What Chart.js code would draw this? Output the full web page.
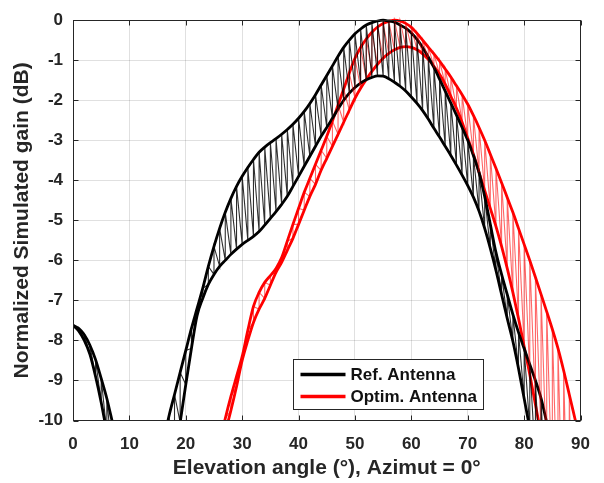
<!DOCTYPE html>
<html><head><meta charset="utf-8">
<script src="https://cdn.jsdelivr.net/npm/chart.js@4.4.0/dist/chart.umd.min.js"></script>
<style>html,body{margin:0;padding:0;background:#fff;}#wrap{width:604px;height:483px;}</style>
</head><body><div id="wrap"><canvas id="c" width="604" height="483"></canvas></div>
<script>
// Elevation angle (deg), one sample per degree
const elevation = [0,1,2,3,4,5,6,7,8,9,10,11,12,13,14,15,16,17,18,19,20,21,22,23,24,25,26,27,28,29,30,31,32,33,34,35,36,37,38,39,40,41,42,43,44,45,46,47,48,49,50,51,52,53,54,55,56,57,58,59,60,61,62,63,64,65,66,67,68,69,70,71,72,73,74,75,76,77,78,79,80,81,82,83,84,85,86,87,88,89,90];
// Ref. antenna: upper and lower envelopes of the gain (dB)
const refUpper = [-7.62,-7.70,-7.86,-8.12,-8.48,-8.95,-9.45,-10.05,null,null,null,null,null,null,null,null,
  -10.55,-9.9,-9.35,-8.8,-8.25,-7.7,-7.2,-6.7,-6.15,-5.65,-5.2,-4.8,-4.45,-4.15,-3.9,-3.68,-3.48,-3.3,-3.17,-3.06,
  -2.96,-2.85,-2.73,-2.6,-2.45,-2.28,-2.08,-1.86,-1.62,-1.38,-1.14,-0.9,-0.68,-0.5,-0.34,-0.22,-0.12,-0.06,-0.02,0,
  -0.02,-0.05,-0.12,-0.2,-0.32,-0.48,-0.68,-0.92,-1.18,-1.47,-1.77,-2.07,-2.37,-2.68,-3.0,-3.38,-3.8,-4.4,-5.1,-5.8,
  -6.35,-6.85,-7.35,-7.8,-8.2,-8.6,-9.0,-9.45,-10.05,null,null,null,null,null,null];
const refLower = [-7.62,-7.76,-8.0,-8.35,-8.9,-9.55,-10.3,-11.0,null,null,null,null,null,null,null,null,
  -12.6,-11.8,-10.95,-10.05,-9.1,-8.2,-7.38,-6.95,-6.6,-6.35,-6.15,-6.0,-5.85,-5.72,-5.6,-5.5,-5.4,-5.28,-5.12,-4.95,
  -4.78,-4.6,-4.4,-4.15,-3.9,-3.65,-3.4,-3.15,-2.9,-2.68,-2.45,-2.22,-2.0,-1.82,-1.68,-1.57,-1.49,-1.43,-1.39,-1.4,
  -1.46,-1.55,-1.65,-1.77,-1.92,-2.08,-2.26,-2.47,-2.7,-2.92,-3.15,-3.38,-3.62,-3.87,-4.13,-4.42,-4.77,-5.2,-5.7,-6.25,
  -6.85,-7.45,-8.02,-8.7,-9.45,-10.2,-11.0,-11.8,-12.6,null,null,null,null,null,null];
// Optim. antenna: upper and lower envelopes of the gain (dB)
const optUpper = [null,null,null,null,null,null,null,null,null,null,null,null,null,null,null,null,null,null,null,null,null,null,null,null,null,null,
  -10.55,-9.95,-9.4,-8.9,-8.4,-7.75,-7.15,-6.8,-6.55,-6.38,-6.2,-5.93,-5.52,-5.1,-4.7,-4.3,-3.95,-3.6,-3.25,-2.9,
  -2.52,-2.12,-1.72,-1.32,-0.95,-0.68,-0.47,-0.3,-0.17,-0.08,-0.03,0,-0.02,-0.08,-0.18,-0.33,-0.5,-0.67,-0.84,-1.02,
  -1.22,-1.42,-1.64,-1.86,-2.1,-2.38,-2.68,-3.0,-3.35,-3.7,-4.06,-4.43,-4.8,-5.2,-5.6,-6.0,-6.42,-6.85,-7.28,-7.72,
  -8.2,-8.75,-9.35,-9.95,-10.55];
const optLower = [null,null,null,null,null,null,null,null,null,null,null,null,null,null,null,null,null,null,null,null,null,null,null,null,null,null,
  -10.9,-10.3,-9.75,-9.15,-8.5,-8.0,-7.55,-7.22,-6.95,-6.62,-6.3,-6.05,-5.75,-5.45,-5.1,-4.75,-4.4,-4.1,-3.75,-3.45,
  -3.15,-2.85,-2.55,-2.25,-1.95,-1.7,-1.48,-1.28,-1.1,-0.95,-0.83,-0.74,-0.68,-0.66,-0.68,-0.74,-0.84,-0.98,-1.15,-1.35,
  -1.6,-1.9,-2.2,-2.55,-2.95,-3.35,-3.8,-4.25,-4.7,-5.15,-5.65,-6.2,-6.8,-7.45,-8.15,-8.85,-9.6,-10.35,-11.1,-11.9,
  -12.7,-13.5,-14.3,-15.1,-15.9];
const seriesNames = ['Ref. Antenna','Optim. Antenna'];
const xTicks = [0,10,20,30,40,50,60,70,80,90];
const yTicks = [0,-1,-2,-3,-4,-5,-6,-7,-8,-9,-10];

function envelope(vals){ return elevation.map((x,i)=>({x:x,y:vals[i]})); }
// alternating samples between the two envelopes (the hatched pattern)
function zigzag(hi,lo){
  const pts=[];
  elevation.forEach((x,i)=>{
    if(hi[i]!==null && lo[i]!==null){ pts.push({x:x,y:lo[i]}); pts.push({x:x,y:hi[i]}); }
    else pts.push({x:x,y:null});
  });
  return pts;
}
const clipArea = {left:0,top:3,right:0,bottom:0};
const FONT = '"Liberation Sans", Arial, Helvetica, sans-serif';
const AXC = '#262626';

const boxPlugin = {
  id:'box',
  afterDraw(chart){
    const ctx=chart.ctx, a=chart.chartArea, xs=chart.scales.x, ys=chart.scales.y;
    ctx.save();
    ctx.strokeStyle=AXC; ctx.lineWidth=1;
    const L=Math.round(a.left)+0.5, R=Math.round(a.right)-0.5, T=Math.round(a.top)+0.5, B=Math.round(a.bottom)-0.5;
    ctx.strokeRect(L,T,R-L,B-T);
    ctx.beginPath();
    xTicks.forEach(v=>{ const p=Math.round(xs.getPixelForValue(v))+0.5; ctx.moveTo(p,B); ctx.lineTo(p,B-5); ctx.moveTo(p,T); ctx.lineTo(p,T+5); });
    yTicks.forEach(v=>{ const p=Math.round(ys.getPixelForValue(v))+0.5; ctx.moveTo(L,p); ctx.lineTo(L+5,p); ctx.moveTo(R,p); ctx.lineTo(R-5,p); });
    ctx.stroke();
    // legend
    const bx=293.5, by=359.5, bw=190, bh=50;
    ctx.fillStyle='#fff'; ctx.fillRect(bx,by,bw,bh);
    ctx.strokeStyle=AXC; ctx.lineWidth=1; ctx.strokeRect(bx,by,bw,bh);
    const entries = chart.data.datasets.filter(d=>d.legendEntry);
    entries.forEach((d,k)=>{
      const y = by + 15 + k*22;
      ctx.strokeStyle=d.borderColor; ctx.lineWidth=3.5;
      ctx.beginPath(); ctx.moveTo(bx+7,y); ctx.lineTo(bx+52,y); ctx.stroke();
      ctx.fillStyle='#111'; ctx.font='bold 17px '+FONT; ctx.textBaseline='middle'; ctx.textAlign='left';
      ctx.fillText(d.label, bx+57, y+1);
    });
    ctx.restore();
  }
};

new Chart(document.getElementById('c'), {
  type:'line',
  data:{datasets:[
    {label:seriesNames[0]+' hatch', data:zigzag(refUpper,refLower), borderColor:'rgba(0,0,0,0.82)', borderWidth:1.1, pointRadius:0, tension:0, spanGaps:false, clip:clipArea},
    {label:seriesNames[1]+' hatch', data:zigzag(optUpper,optLower), borderColor:'rgba(255,0,0,0.6)', borderWidth:1.1, pointRadius:0, tension:0, spanGaps:false, clip:clipArea},
    {label:seriesNames[0], legendEntry:true, data:envelope(refUpper), borderColor:'#000', borderWidth:2.8, pointRadius:0, cubicInterpolationMode:'monotone', spanGaps:false, clip:clipArea},
    {label:seriesNames[0]+' low', data:envelope(refLower), borderColor:'#000', borderWidth:2.8, pointRadius:0, cubicInterpolationMode:'monotone', spanGaps:false, clip:clipArea},
    {label:seriesNames[1], legendEntry:true, data:envelope(optUpper), borderColor:'#ff0000', borderWidth:2.8, pointRadius:0, cubicInterpolationMode:'monotone', spanGaps:false, clip:clipArea},
    {label:seriesNames[1]+' low', data:envelope(optLower), borderColor:'#ff0000', borderWidth:2.8, pointRadius:0, cubicInterpolationMode:'monotone', spanGaps:false, clip:clipArea}
  ]},
  options:{
    responsive:false, animation:false, devicePixelRatio:1,
    layout:{padding:{top:15,right:12,bottom:0,left:0}},
    plugins:{legend:{display:false}, tooltip:{enabled:false}},
    scales:{
      x:{type:'linear', min:0, max:90,
        afterBuildTicks(s){ s.ticks = xTicks.map(v=>({value:v})); },
        afterFit(s){ s.height = 62.5; },
        ticks:{font:{family:FONT, size:17, weight:'bold'}, color:AXC, padding:14, maxRotation:0},
        grid:{color:'rgba(0,0,0,0.12)', drawTicks:false},
        border:{display:false},
        title:{display:true, text:'Elevation angle (°), Azimut = 0°', font:{family:FONT,size:21,weight:'bold'}, color:AXC, padding:{top:0,bottom:2}}
      },
      y:{type:'linear', min:-10, max:0,
        afterBuildTicks(s){ s.ticks = yTicks.slice().reverse().map(v=>({value:v})); },
        afterFit(s){ s.width = 73; },
        ticks:{font:{family:FONT, size:17, weight:'bold'}, color:AXC, padding:10},
        grid:{color:'rgba(0,0,0,0.12)', drawTicks:false},
        border:{display:false},
        title:{display:true, text:'Normalized Simulated gain (dB)', font:{family:FONT,size:21,weight:'bold'}, color:AXC, padding:{top:10,bottom:0}}
      }
    }
  },
  plugins:[boxPlugin]
});
</script></body></html>
